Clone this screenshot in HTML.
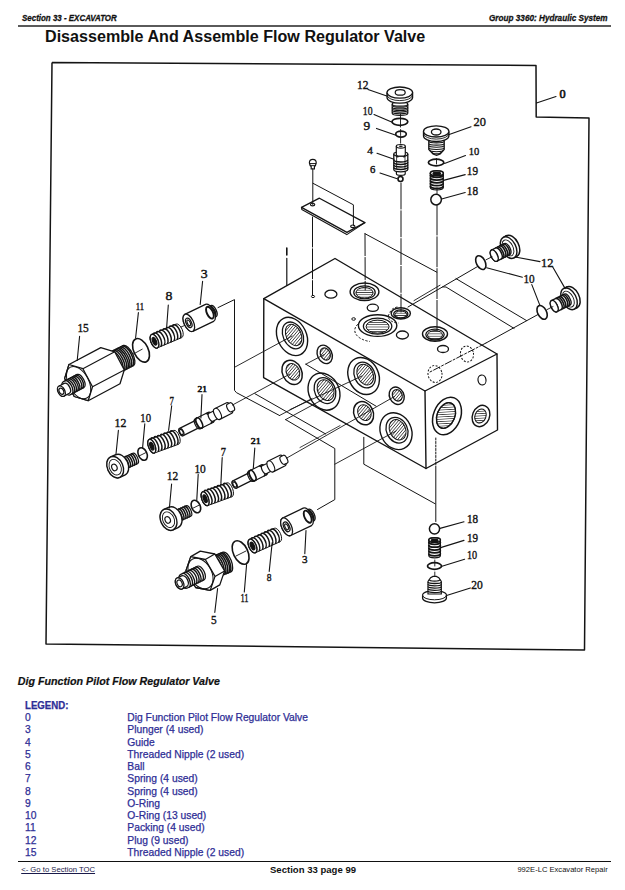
<!DOCTYPE html>
<html><head><meta charset="utf-8">
<style>
html,body{margin:0;padding:0;background:#fff;}
body{width:625px;height:890px;position:relative;overflow:hidden;font-family:"Liberation Sans",sans-serif;color:#111;}
.t{position:absolute;white-space:nowrap;line-height:1;transform-origin:0 0;}
.hdr{font-size:9.2px;font-weight:bold;font-style:italic;-webkit-text-stroke:0.3px #111;}
.ttl{font-size:15.8px;font-weight:bold;}
.sub{font-size:10.7px;font-weight:bold;font-style:italic;-webkit-text-stroke:0.2px #111;}
.lg{font-size:10.3px;color:#2e2e96;-webkit-text-stroke:0.25px #2e2e96;}
.rule{position:absolute;height:0;border-top:1.4px solid #333;}
svg{position:absolute;left:0;top:0;}
</style></head><body>
<div class="t hdr" id="h1" style="left:21.5px;top:14.4px;transform:scaleX(0.865);">Section 33 - EXCAVATOR</div>
<div class="t hdr" id="h2" style="left:488.6px;top:14.2px;transform:scaleX(0.89);">Group 3360: Hydraulic System</div>
<div class="rule" style="left:18px;top:24.9px;width:593px;border-top:2.2px solid #5a5a5a;"></div>
<div class="t ttl" id="ttl" style="left:44.6px;top:28.6px;transform:scaleX(1.02);">Disassemble And Assemble Flow Regulator Valve</div>

<div class="t sub" id="sub" style="left:17.8px;top:675.6px;">Dig Function Pilot Flow Regulator Valve</div>
<div class="t lg" style="left:24.8px;top:701.4px;font-weight:bold;font-size:10px;transform:scaleX(0.965);">LEGEND:</div>
<div id="legend">
<div class="t lg" style="left:25px;top:712.9px;">0</div><div class="t lg" style="left:127.3px;top:712.9px;">Dig Function Pilot Flow Regulator Valve</div>
<div class="t lg" style="left:25px;top:725.2px;">3</div><div class="t lg" style="left:127.3px;top:725.2px;">Plunger (4 used)</div>
<div class="t lg" style="left:25px;top:737.5px;">4</div><div class="t lg" style="left:127.3px;top:737.5px;">Guide</div>
<div class="t lg" style="left:25px;top:749.7px;">5</div><div class="t lg" style="left:127.3px;top:749.7px;">Threaded Nipple (2 used)</div>
<div class="t lg" style="left:25px;top:762.0px;">6</div><div class="t lg" style="left:127.3px;top:762.0px;">Ball</div>
<div class="t lg" style="left:25px;top:774.3px;">7</div><div class="t lg" style="left:127.3px;top:774.3px;">Spring (4 used)</div>
<div class="t lg" style="left:25px;top:786.6px;">8</div><div class="t lg" style="left:127.3px;top:786.6px;">Spring (4 used)</div>
<div class="t lg" style="left:25px;top:798.9px;">9</div><div class="t lg" style="left:127.3px;top:798.9px;">O-Ring</div>
<div class="t lg" style="left:25px;top:811.1px;">10</div><div class="t lg" style="left:127.3px;top:811.1px;">O-Ring (13 used)</div>
<div class="t lg" style="left:25px;top:823.4px;">11</div><div class="t lg" style="left:127.3px;top:823.4px;">Packing (4 used)</div>
<div class="t lg" style="left:25px;top:835.7px;">12</div><div class="t lg" style="left:127.3px;top:835.7px;">Plug (9 used)</div>
<div class="t lg" style="left:25px;top:848.0px;">15</div><div class="t lg" style="left:127.3px;top:848.0px;">Threaded Nipple (2 used)</div>
</div>
<div class="rule" style="left:17.7px;top:860.6px;width:593.5px;border-top:1.3px solid #111;"></div>
<div class="t" id="toc" style="left:21.2px;top:866.3px;font-size:7.7px;text-decoration:underline;color:#1a1a4a;">&lt;- Go to Section TOC</div>
<div class="t" id="pg" style="left:269.6px;top:864.8px;font-size:9.8px;font-weight:bold;transform:scaleX(0.975);">Section 33 page 99</div>
<div class="t" id="rep" style="left:517.4px;top:866px;font-size:7.6px;">992E-LC Excavator Repair</div>

<svg id="dg" width="625" height="890" viewBox="0 0 625 890">
<path d="M52.0,62.5 L536.0,65.5 L536.2,117.0 L589.0,118.0 L584.5,650.0 L46.0,644.0 L52.0,62.5" stroke="#141414" stroke-width="1.5" fill="none" stroke-linecap="butt" stroke-linejoin="round"/>
<path d="M536.5,103.0 L556.0,96.5" stroke="#141414" stroke-width="1.1" fill="none" stroke-linecap="round" stroke-linejoin="round"/>
<text transform="translate(559.5,98.2) scale(0.950,1)" font-family="Liberation Serif" font-size="12.9" fill="#141414" stroke="#141414" stroke-width="0.7">0</text>
<path d="M263.8,298.7 L335.0,258.5 L497.0,354.0 L497.5,430.0 L426.0,468.5 L263.6,377.6 Z" stroke="#141414" stroke-width="1.4" fill="#fff" stroke-linejoin="round"/>
<path d="M263.8,298.7 L425.0,391.0 L497.0,354.0" stroke="#141414" stroke-width="1.4" fill="none" stroke-linecap="round" stroke-linejoin="round"/>
<path d="M425.0,391.0 L426.0,468.5" stroke="#141414" stroke-width="1.4" fill="none" stroke-linecap="round" stroke-linejoin="round"/>
<defs><pattern id="th" patternUnits="userSpaceOnUse" width="2.3" height="2.3" patternTransform="rotate(65)"><rect width="2.3" height="2.3" fill="#fff"/><rect width="0.75" height="2.3" fill="#3a3a3a"/></pattern><pattern id="th2" patternUnits="userSpaceOnUse" width="2.3" height="2.3" patternTransform="rotate(0)"><rect width="2.3" height="2.3" fill="#fff"/><rect width="2.3" height="0.75" fill="#3a3a3a"/></pattern><pattern id="thv" patternUnits="userSpaceOnUse" width="2.4" height="2.4" patternTransform="rotate(90)"><rect width="2.4" height="2.4" fill="#fff"/><rect width="1.2" height="2.4" fill="#222"/></pattern></defs>
<ellipse cx="364.5" cy="291.8" rx="14.4" ry="8.8" fill="#fff" stroke="#141414" stroke-width="1.4"/>
<ellipse cx="364.5" cy="292.4" rx="10.7" ry="6.5" fill="#fff" stroke="#141414" stroke-width="1.3"/>
<ellipse cx="364.5" cy="292.8" rx="8.6" ry="5.3" fill="url(#th2)" stroke="none"/>
<ellipse cx="364.5" cy="292.8" rx="8.6" ry="5.3" fill="none" stroke="#141414" stroke-width="1.0"/>
<ellipse cx="330.9" cy="294.2" rx="6.0" ry="4.0" fill="none" stroke="#141414" stroke-width="1.3"/>
<ellipse cx="313.0" cy="296.5" rx="1.6" ry="1.1" fill="none" stroke="#141414" stroke-width="1.0"/>
<ellipse cx="372.8" cy="307.8" rx="5.6" ry="3.6" fill="none" stroke="#141414" stroke-width="1.3"/>
<ellipse cx="353.6" cy="319.0" rx="1.8" ry="1.3" fill="none" stroke="#141414" stroke-width="1.0"/>
<path d="M361,322 A20,11.5 0 0 0 370,341.5" stroke="#141414" stroke-width="1.0" fill="none" stroke-dasharray="2.2 1.6"/>
<ellipse cx="377.6" cy="325.6" rx="19.2" ry="10.8" fill="#fff" stroke="#141414" stroke-width="1.4"/>
<ellipse cx="377.6" cy="326.2" rx="14.2" ry="8.0" fill="#fff" stroke="#141414" stroke-width="1.3"/>
<ellipse cx="377.6" cy="326.6" rx="11.5" ry="6.5" fill="url(#th2)" stroke="none"/>
<ellipse cx="377.6" cy="326.6" rx="11.5" ry="6.5" fill="none" stroke="#141414" stroke-width="1.0"/>
<path d="M397.4,307 A10.5,6.5 0 0 0 390,313 A10.5,6.5 0 0 0 398.5,323" stroke="#141414" stroke-width="1.0" fill="none" stroke-dasharray="2.2 1.6"/>
<ellipse cx="400.8" cy="313.4" rx="9.6" ry="5.6" fill="#fff" stroke="#141414" stroke-width="1.4"/>
<ellipse cx="400.8" cy="314.0" rx="7.1" ry="4.1" fill="#fff" stroke="#141414" stroke-width="1.3"/>
<ellipse cx="400.8" cy="314.4" rx="5.8" ry="3.4" fill="url(#th2)" stroke="none"/>
<ellipse cx="400.8" cy="314.4" rx="5.8" ry="3.4" fill="none" stroke="#141414" stroke-width="1.0"/>
<ellipse cx="402.4" cy="335.0" rx="6.0" ry="4.0" fill="none" stroke="#141414" stroke-width="1.3"/>
<ellipse cx="435.0" cy="334.0" rx="12.5" ry="7.3" fill="#fff" stroke="#141414" stroke-width="1.4"/>
<ellipse cx="435.0" cy="334.6" rx="9.2" ry="5.4" fill="#fff" stroke="#141414" stroke-width="1.3"/>
<ellipse cx="435.0" cy="335.0" rx="7.5" ry="4.4" fill="url(#th2)" stroke="none"/>
<ellipse cx="435.0" cy="335.0" rx="7.5" ry="4.4" fill="none" stroke="#141414" stroke-width="1.0"/>
<ellipse cx="443.0" cy="349.0" rx="5.5" ry="3.5" fill="none" stroke="#141414" stroke-width="1.3"/>
<ellipse cx="467.0" cy="354.0" rx="6.5" ry="8.0" fill="none" stroke="#141414" stroke-width="1.0" transform="rotate(-10.0 467.0 354.0)" stroke-dasharray="2 1.5"/>
<ellipse cx="435.0" cy="374.0" rx="7.0" ry="8.5" fill="none" stroke="#141414" stroke-width="1.0" transform="rotate(-10.0 435.0 374.0)" stroke-dasharray="2 1.5"/>
<ellipse cx="482.0" cy="380.0" rx="4.0" ry="5.0" fill="none" stroke="#141414" stroke-width="1.2" transform="rotate(-10.0 482.0 380.0)"/>
<ellipse cx="292.0" cy="336.4" rx="14.5" ry="20.0" fill="#fff" stroke="#141414" stroke-width="1.4" transform="rotate(-25.0 292.0 336.4)"/>
<ellipse cx="293.0" cy="335.4" rx="9.9" ry="14.0" fill="#fff" stroke="#141414" stroke-width="1.3" transform="rotate(-25.0 293.0 335.4)"/>
<ellipse cx="293.6" cy="335.0" rx="7.5" ry="11.2" fill="url(#th)" stroke="none" transform="rotate(-25.0 293.6 335.0)"/>
<ellipse cx="293.6" cy="335.0" rx="7.5" ry="11.2" fill="none" stroke="#141414" stroke-width="1.0" transform="rotate(-25.0 293.6 335.0)"/>
<ellipse cx="324.7" cy="354.4" rx="7.2" ry="9.6" fill="#fff" stroke="#141414" stroke-width="1.4" transform="rotate(-25.0 324.7 354.4)"/>
<ellipse cx="325.3" cy="354.0" rx="4.8" ry="6.3" fill="url(#th)" stroke="none" transform="rotate(-25.0 325.3 354.0)"/>
<ellipse cx="325.3" cy="354.0" rx="4.8" ry="6.3" fill="none" stroke="#141414" stroke-width="1.2" transform="rotate(-25.0 325.3 354.0)"/>
<ellipse cx="292.1" cy="372.4" rx="9.6" ry="12.6" fill="#fff" stroke="#141414" stroke-width="1.5" transform="rotate(-25.0 292.1 372.4)"/>
<ellipse cx="292.9" cy="371.8" rx="6.5" ry="8.6" fill="url(#th)" stroke="none" transform="rotate(-25.0 292.9 371.8)"/>
<ellipse cx="292.9" cy="371.8" rx="6.5" ry="8.6" fill="none" stroke="#141414" stroke-width="1.0" transform="rotate(-25.0 292.9 371.8)"/>
<ellipse cx="324.0" cy="391.6" rx="15.2" ry="19.2" fill="#fff" stroke="#141414" stroke-width="1.4" transform="rotate(-25.0 324.0 391.6)"/>
<ellipse cx="325.0" cy="390.6" rx="10.3" ry="13.4" fill="#fff" stroke="#141414" stroke-width="1.3" transform="rotate(-25.0 325.0 390.6)"/>
<ellipse cx="325.6" cy="390.2" rx="7.9" ry="10.8" fill="url(#th)" stroke="none" transform="rotate(-25.0 325.6 390.2)"/>
<ellipse cx="325.6" cy="390.2" rx="7.9" ry="10.8" fill="none" stroke="#141414" stroke-width="1.0" transform="rotate(-25.0 325.6 390.2)"/>
<ellipse cx="363.6" cy="376.0" rx="15.0" ry="19.2" fill="#fff" stroke="#141414" stroke-width="1.4" transform="rotate(-25.0 363.6 376.0)"/>
<ellipse cx="364.6" cy="375.0" rx="10.2" ry="13.4" fill="#fff" stroke="#141414" stroke-width="1.3" transform="rotate(-25.0 364.6 375.0)"/>
<ellipse cx="365.2" cy="374.6" rx="7.8" ry="10.8" fill="url(#th)" stroke="none" transform="rotate(-25.0 365.2 374.6)"/>
<ellipse cx="365.2" cy="374.6" rx="7.8" ry="10.8" fill="none" stroke="#141414" stroke-width="1.0" transform="rotate(-25.0 365.2 374.6)"/>
<ellipse cx="396.7" cy="395.7" rx="7.2" ry="9.0" fill="#fff" stroke="#141414" stroke-width="1.4" transform="rotate(-25.0 396.7 395.7)"/>
<ellipse cx="397.3" cy="395.3" rx="4.8" ry="5.9" fill="url(#th)" stroke="none" transform="rotate(-25.0 397.3 395.3)"/>
<ellipse cx="397.3" cy="395.3" rx="4.8" ry="5.9" fill="none" stroke="#141414" stroke-width="1.2" transform="rotate(-25.0 397.3 395.3)"/>
<ellipse cx="363.6" cy="413.2" rx="9.6" ry="12.0" fill="#fff" stroke="#141414" stroke-width="1.5" transform="rotate(-25.0 363.6 413.2)"/>
<ellipse cx="364.4" cy="412.6" rx="6.5" ry="8.2" fill="url(#th)" stroke="none" transform="rotate(-25.0 364.4 412.6)"/>
<ellipse cx="364.4" cy="412.6" rx="6.5" ry="8.2" fill="none" stroke="#141414" stroke-width="1.0" transform="rotate(-25.0 364.4 412.6)"/>
<ellipse cx="396.0" cy="431.2" rx="15.4" ry="19.0" fill="#fff" stroke="#141414" stroke-width="1.4" transform="rotate(-25.0 396.0 431.2)"/>
<ellipse cx="397.0" cy="430.2" rx="10.5" ry="13.3" fill="#fff" stroke="#141414" stroke-width="1.3" transform="rotate(-25.0 397.0 430.2)"/>
<ellipse cx="397.6" cy="429.8" rx="8.0" ry="10.6" fill="url(#th)" stroke="none" transform="rotate(-25.0 397.6 429.8)"/>
<ellipse cx="397.6" cy="429.8" rx="8.0" ry="10.6" fill="none" stroke="#141414" stroke-width="1.0" transform="rotate(-25.0 397.6 429.8)"/>
<ellipse cx="447.0" cy="416.0" rx="13.5" ry="19.5" fill="#fff" stroke="#141414" stroke-width="1.5" transform="rotate(22.0 447.0 416.0)"/>
<ellipse cx="446.0" cy="415.5" rx="8.9" ry="13.3" fill="url(#th)" stroke="#141414" stroke-width="1.2" transform="rotate(22.0 446.0 415.5)"/>
<ellipse cx="446.0" cy="415.5" rx="8.9" ry="13.3" fill="none" stroke="#141414" stroke-width="1.3" transform="rotate(22.0 446.0 415.5)"/>
<ellipse cx="481.0" cy="416.0" rx="8.5" ry="11.0" fill="#fff" stroke="#141414" stroke-width="1.4" transform="rotate(22.0 481.0 416.0)"/>
<ellipse cx="480.5" cy="416.0" rx="5.5" ry="7.2" fill="url(#th)" stroke="#141414" stroke-width="1.0" transform="rotate(22.0 480.5 416.0)"/>
<path d="M392.2,104.0 L392.2,113.2 A7.8,2.2 0 0 0 407.8,113.2 L407.8,104.0" stroke="#141414" stroke-width="1.2" fill="#fff" stroke-linejoin="round"/>
<ellipse cx="400.0" cy="104.0" rx="7.8" ry="2.2" fill="#fff" stroke="#141414" stroke-width="1.2"/>
<path d="M392.2,105.3 A7.8,2.0 0 0 0 407.8,105.3" stroke="#141414" stroke-width="1.1" fill="none"/>
<path d="M392.2,106.9 A7.8,2.0 0 0 0 407.8,106.9" stroke="#141414" stroke-width="1.1" fill="none"/>
<path d="M392.2,108.5 A7.8,2.0 0 0 0 407.8,108.5" stroke="#141414" stroke-width="1.1" fill="none"/>
<path d="M392.2,110.1 A7.8,2.0 0 0 0 407.8,110.1" stroke="#141414" stroke-width="1.1" fill="none"/>
<path d="M392.2,111.7 A7.8,2.0 0 0 0 407.8,111.7" stroke="#141414" stroke-width="1.1" fill="none"/>
<path d="M387.0,92.6 L387.0,97.6 A12.8,5.6 0 0 0 412.6,97.6 L412.6,92.6" stroke="#141414" stroke-width="1.3" fill="#fff" stroke-linejoin="round"/>
<ellipse cx="399.8" cy="92.6" rx="12.8" ry="5.6" fill="#fff" stroke="#141414" stroke-width="1.3"/>
<path d="M387.2,95.2 A12.6,5.4 0 0 0 412.4,95.2" stroke="#141414" stroke-width="0.9" fill="none"/>
<ellipse cx="400.2" cy="92.4" rx="5.0" ry="2.8" fill="none" stroke="#141414" stroke-width="1.2"/>
<text transform="translate(357.0,89.2) scale(0.931,1)" font-family="Liberation Serif" font-size="12.3" fill="#141414" stroke="#141414" stroke-width="0.4">12</text>
<path d="M368.0,89.4 L387.5,96.2" stroke="#141414" stroke-width="1.1" fill="none" stroke-linecap="round" stroke-linejoin="round"/>
<path d="M400.5,114.0 L400.5,127.0" stroke="#141414" stroke-width="0.9" fill="none" stroke-linecap="round" stroke-linejoin="round"/>
<ellipse cx="399.9" cy="121.8" rx="7.9" ry="3.5" fill="none" stroke="#141414" stroke-width="1.7"/>
<text transform="translate(362.8,115.4) scale(0.786,1)" font-family="Liberation Serif" font-size="12.4" fill="#141414" stroke="#141414" stroke-width="0.4">10</text>
<path d="M374.0,114.6 L392.2,122.2" stroke="#141414" stroke-width="1.1" fill="none" stroke-linecap="round" stroke-linejoin="round"/>
<path d="M400.6,129.5 L400.6,147.0" stroke="#141414" stroke-width="0.9" fill="none" stroke-linecap="round" stroke-linejoin="round" stroke-dasharray="6 1.2"/>
<ellipse cx="401.0" cy="134.1" rx="5.3" ry="3.0" fill="none" stroke="#141414" stroke-width="1.7"/>
<text transform="translate(363.5,129.5) scale(1.086,1)" font-family="Liberation Serif" font-size="12.3" fill="#141414" stroke="#141414" stroke-width="0.4">9</text>
<path d="M376.5,128.4 L396.0,135.2" stroke="#141414" stroke-width="1.1" fill="none" stroke-linecap="round" stroke-linejoin="round"/>
<path d="M396.4,166.0 L396.4,173.8 A4.4,1.6 0 0 0 405.2,173.8 L405.2,166.0" stroke="#141414" stroke-width="1.2" fill="#fff" stroke-linejoin="round"/>
<path d="M393.8,154.0 L393.8,169.6 A7.0,2.2 0 0 0 407.8,169.6 L407.8,154.0" stroke="#141414" stroke-width="1.3" fill="#fff" stroke-linejoin="round"/>
<ellipse cx="400.8" cy="154.0" rx="7.0" ry="2.2" fill="#fff" stroke="#141414" stroke-width="1.3"/>
<path d="M393.8,159.8 A7.0,2.2 0 0 0 407.8,159.8" stroke="#141414" stroke-width="1.5" fill="none"/>
<path d="M393.8,162.2 A7.0,2.2 0 0 0 407.8,162.2" stroke="#141414" stroke-width="1.5" fill="none"/>
<path d="M393.8,164.8 A7.0,2.2 0 0 0 407.8,164.8" stroke="#141414" stroke-width="1.5" fill="none"/>
<path d="M393.8,167.2 A7.0,2.2 0 0 0 407.8,167.2" stroke="#141414" stroke-width="1.5" fill="none"/>
<path d="M396.6,156.5 L396.6,168.5" stroke="#141414" stroke-width="0.8" fill="none" stroke-linecap="round" stroke-linejoin="round"/>
<path d="M405.0,156.5 L405.0,168.5" stroke="#141414" stroke-width="0.8" fill="none" stroke-linecap="round" stroke-linejoin="round"/>
<ellipse cx="397.6" cy="156.2" rx="1.3" ry="1.4" fill="#141414" stroke="none"/>
<ellipse cx="404.0" cy="156.2" rx="1.3" ry="1.4" fill="#141414" stroke="none"/>
<path d="M396.3,146.3 L396.3,154.4 A4.5,1.8 0 0 0 405.3,154.4 L405.3,146.3" stroke="#141414" stroke-width="1.2" fill="#fff" stroke-linejoin="round"/>
<ellipse cx="400.8" cy="146.3" rx="4.5" ry="1.8" fill="#fff" stroke="#141414" stroke-width="1.2"/>
<ellipse cx="400.8" cy="146.3" rx="2.0" ry="0.8" fill="#141414" stroke="none"/>
<text transform="translate(367.2,153.6) scale(1.079,1)" font-family="Liberation Serif" font-size="10.5" fill="#141414" stroke="#141414" stroke-width="0.4">4</text>
<path d="M377.0,153.2 L394.0,159.2" stroke="#141414" stroke-width="1.1" fill="none" stroke-linecap="round" stroke-linejoin="round"/>
<ellipse cx="400.5" cy="179.0" rx="2.5" ry="2.5" fill="#fff" stroke="#141414" stroke-width="1.6"/>
<text transform="translate(370.0,173.4) scale(1.127,1)" font-family="Liberation Serif" font-size="9.5" fill="#141414" stroke="#141414" stroke-width="0.4">6</text>
<path d="M380.0,173.0 L397.2,178.8" stroke="#141414" stroke-width="1.1" fill="none" stroke-linecap="round" stroke-linejoin="round"/>
<path d="M401.0,183.0 L401.0,312.0" stroke="#141414" stroke-width="1.0" fill="none" stroke-linecap="round" stroke-linejoin="round" stroke-dasharray="26 1.8"/>
<path d="M428.8,138.5 L428.8,149.5 L433,154 L436.6,155.4 L440.2,154 L444.2,149.5 L444.2,138.5 Z" stroke="#141414" stroke-width="1.3" fill="#fff"/>
<path d="M428.9,141.2 A7.6,1.7 0 0 0 444.1,141.2" stroke="#141414" stroke-width="1.1" fill="none"/>
<path d="M428.9,143.4 A7.6,1.7 0 0 0 444.1,143.4" stroke="#141414" stroke-width="1.1" fill="none"/>
<path d="M428.9,145.6 A7.6,1.7 0 0 0 444.1,145.6" stroke="#141414" stroke-width="1.1" fill="none"/>
<path d="M428.9,147.8 A7.6,1.7 0 0 0 444.1,147.8" stroke="#141414" stroke-width="1.1" fill="none"/>
<path d="M429.6,150.0 A6.9,1.7 0 0 0 443.4,150.0" stroke="#141414" stroke-width="1.1" fill="none"/>
<path d="M432.4,152.2 A4.1,1.7 0 0 0 440.6,152.2" stroke="#141414" stroke-width="1.1" fill="none"/>
<path d="M423.5,131.4 L423.5,135.9 A12.7,5.6 0 0 0 448.9,135.9 L448.9,131.4" stroke="#141414" stroke-width="1.3" fill="#fff" stroke-linejoin="round"/>
<ellipse cx="436.2" cy="131.4" rx="12.7" ry="5.6" fill="#fff" stroke="#141414" stroke-width="1.3"/>
<path d="M423.6,133.6 A12.6,5.5 0 0 0 448.8,133.6" stroke="#141414" stroke-width="0.9" fill="none"/>
<ellipse cx="436.2" cy="132.0" rx="4.8" ry="3.0" fill="none" stroke="#141414" stroke-width="1.3"/>
<text transform="translate(473.5,126.3) scale(0.919,1)" font-family="Liberation Serif" font-size="13.5" fill="#141414" stroke="#141414" stroke-width="0.4">20</text>
<path d="M448.5,134.8 L471.0,126.8" stroke="#141414" stroke-width="1.1" fill="none" stroke-linecap="round" stroke-linejoin="round"/>
<ellipse cx="436.1" cy="162.5" rx="7.7" ry="3.3" fill="none" stroke="#141414" stroke-width="1.7"/>
<path d="M436.5,158.5 L436.5,164.0" stroke="#141414" stroke-width="0.9" fill="none" stroke-linecap="round" stroke-linejoin="round"/>
<text transform="translate(468.8,155.4) scale(0.942,1)" font-family="Liberation Serif" font-size="11.2" fill="#141414" stroke="#141414" stroke-width="0.4">10</text>
<path d="M444.5,163.4 L465.5,155.6" stroke="#141414" stroke-width="1.1" fill="none" stroke-linecap="round" stroke-linejoin="round"/>
<path d="M430.3,173.2 L430.3,187.6 A6.5,2.4 0 0 0 443.3,187.6 L443.3,173.2" stroke="#141414" stroke-width="1.2" fill="#fff" stroke-linejoin="round"/>
<ellipse cx="436.8" cy="173.2" rx="6.5" ry="2.4" fill="#fff" stroke="#141414" stroke-width="1.2"/>
<path d="M430.4,174.9 A6.4,2.4 0 0 0 443.2,174.9" stroke="#141414" stroke-width="1.8" fill="none"/>
<path d="M430.4,177.7 A6.4,2.4 0 0 0 443.2,177.7" stroke="#141414" stroke-width="1.8" fill="none"/>
<path d="M430.4,180.5 A6.4,2.4 0 0 0 443.2,180.5" stroke="#141414" stroke-width="1.8" fill="none"/>
<path d="M430.4,183.3 A6.4,2.4 0 0 0 443.2,183.3" stroke="#141414" stroke-width="1.8" fill="none"/>
<path d="M430.4,186.1 A6.4,2.4 0 0 0 443.2,186.1" stroke="#141414" stroke-width="1.8" fill="none"/>
<ellipse cx="436.8" cy="173.2" rx="6.5" ry="2.4" fill="#fff" stroke="#141414" stroke-width="1.6"/>
<ellipse cx="436.8" cy="173.6" rx="3.6" ry="1.3" fill="#141414" stroke="#141414" stroke-width="1.6"/>
<text transform="translate(466.8,174.7) scale(0.901,1)" font-family="Liberation Serif" font-size="12.4" fill="#141414" stroke="#141414" stroke-width="0.4">19</text>
<path d="M443.5,180.4 L465.2,174.6" stroke="#141414" stroke-width="1.1" fill="none" stroke-linecap="round" stroke-linejoin="round"/>
<path d="M437.0,188.0 L437.0,194.0" stroke="#141414" stroke-width="0.9" fill="none" stroke-linecap="round" stroke-linejoin="round"/>
<ellipse cx="436.1" cy="199.6" rx="5.3" ry="5.3" fill="#fff" stroke="#141414" stroke-width="1.5"/>
<text transform="translate(466.8,195.1) scale(0.911,1)" font-family="Liberation Serif" font-size="12.3" fill="#141414" stroke="#141414" stroke-width="0.4">18</text>
<path d="M441.6,199.0 L465.2,192.5" stroke="#141414" stroke-width="1.1" fill="none" stroke-linecap="round" stroke-linejoin="round"/>
<path d="M437.0,205.0 L437.0,331.0" stroke="#141414" stroke-width="1.0" fill="none" stroke-linecap="round" stroke-linejoin="round" stroke-dasharray="30 1.8"/>
<path d="M309.4,162.8 Q309.4,159.4 312.8,159.4 Q316.2,159.4 316.2,162.8 L315.4,165.6 L314.4,166.6 L314.4,169 L311.2,169 L311.2,166.6 L310.2,165.6 Z" stroke="#141414" stroke-width="1.2" fill="#fff"/>
<path d="M309.8,163.6 L315.8,163.6" stroke="#141414" stroke-width="1.0" fill="none" stroke-linecap="round" stroke-linejoin="round"/>
<path d="M310.4,165.6 L315.2,165.6" stroke="#141414" stroke-width="0.9" fill="none" stroke-linecap="round" stroke-linejoin="round"/>
<path d="M312.8,168.5 L312.8,204.5" stroke="#141414" stroke-width="1.0" fill="none" stroke-linecap="round" stroke-linejoin="round"/>
<path d="M313.0,183.3 L353.4,204.8 L353.4,225.5" stroke="#141414" stroke-width="1.0" fill="none" stroke-linecap="round" stroke-linejoin="round"/>
<path d="M301.5,207.4 L319.4,198.2 L364.9,222.6 L346.9,232.4 Z" stroke="#141414" stroke-width="1.3" fill="none" stroke-linejoin="round"/>
<path d="M301.5,207.4 L301.8,209.4 L346.8,234.6 L364.9,222.6" stroke="#141414" stroke-width="1.1" fill="none" stroke-linecap="round" stroke-linejoin="round"/>
<ellipse cx="312.6" cy="204.6" rx="2.2" ry="1.3" fill="none" stroke="#141414" stroke-width="1.1"/>
<ellipse cx="352.8" cy="226.3" rx="2.2" ry="1.3" fill="none" stroke="#141414" stroke-width="1.1"/>
<path d="M312.5,217.0 L312.5,295.5" stroke="#141414" stroke-width="1.0" fill="none" stroke-linecap="round" stroke-linejoin="round" stroke-dasharray="30 1.8"/>
<path d="M365.0,233.7 L436.8,272.2" stroke="#141414" stroke-width="1.0" fill="none" stroke-linecap="round" stroke-linejoin="round"/>
<path d="M365.0,233.7 L365.2,290.0" stroke="#141414" stroke-width="1.0" fill="none" stroke-linecap="round" stroke-linejoin="round" stroke-dasharray="22 1.8"/>
<path d="M286.8,248.0 L286.8,255.0" stroke="#141414" stroke-width="1.6" fill="none" stroke-linecap="round" stroke-linejoin="round"/>
<path d="M286.8,258.4 L286.8,285.4" stroke="#141414" stroke-width="1.2" fill="none" stroke-linecap="round" stroke-linejoin="round"/>
<path d="M99.9,357.4 L123.5,345.4 A4.7,11.3 -27.0 0 1 133.7,365.5 L110.1,377.6 A4.7,11.3 -27.0 0 1 99.9,357.4 Z" stroke="#141414" stroke-width="1.3" fill="#fff" stroke-linejoin="round"/>
<path d="M111.5,351.5 A4.7,11.3 -27.0 0 1 121.7,371.7" stroke="#141414" stroke-width="1.5" fill="none"/>
<path d="M113.2,350.6 A4.7,11.3 -27.0 0 1 123.5,370.8" stroke="#141414" stroke-width="1.5" fill="none"/>
<path d="M115.0,349.7 A4.7,11.3 -27.0 0 1 125.3,369.9" stroke="#141414" stroke-width="1.5" fill="none"/>
<path d="M116.8,348.8 A4.7,11.3 -27.0 0 1 127.1,368.9" stroke="#141414" stroke-width="1.5" fill="none"/>
<path d="M118.6,347.9 A4.7,11.3 -27.0 0 1 128.8,368.0" stroke="#141414" stroke-width="1.5" fill="none"/>
<path d="M120.4,347.0 A4.7,11.3 -27.0 0 1 130.6,367.1" stroke="#141414" stroke-width="1.5" fill="none"/>
<path d="M122.1,346.1 A4.7,11.3 -27.0 0 1 132.4,366.2" stroke="#141414" stroke-width="1.5" fill="none"/>
<path d="M64.7,378.4 L69.0,364.5 L100.8,347.6 L114.7,351.8 L124.3,369.9 L120.0,383.8 L88.2,400.7 L74.3,396.5 Z" stroke="#141414" stroke-width="1.3" fill="#fff" stroke-linejoin="round"/>
<path d="M92.5,386.8 L124.3,369.9" stroke="#141414" stroke-width="1.105" fill="none" stroke-linecap="round" stroke-linejoin="round"/>
<path d="M82.9,368.7 L114.7,351.8" stroke="#141414" stroke-width="1.105" fill="none" stroke-linecap="round" stroke-linejoin="round"/>
<path d="M88.2,400.7 L92.5,386.8 L82.9,368.7 L69.0,364.5 L64.7,378.4 L74.3,396.5 Z" stroke="#141414" stroke-width="1.3" fill="#fff" stroke-linejoin="round"/>
<ellipse cx="78.6" cy="382.6" rx="10.1" ry="17.5" fill="none" stroke="#141414" stroke-width="1.0" transform="rotate(-28.0 78.6 382.6)"/>
<path d="M63.0,381.9 L77.2,374.4 A3.7,7.4 -28.0 0 1 84.1,387.4 L70.0,394.9 A3.7,7.4 -28.0 0 1 63.0,381.9 Z" stroke="#141414" stroke-width="1.2" fill="#fff" stroke-linejoin="round"/>
<path d="M64.8,380.9 A3.7,7.4 -28.0 0 1 71.7,394.0" stroke="#141414" stroke-width="1.4" fill="none"/>
<path d="M66.6,380.0 A3.7,7.4 -28.0 0 1 73.5,393.1" stroke="#141414" stroke-width="1.4" fill="none"/>
<path d="M68.3,379.0 A3.7,7.4 -28.0 0 1 75.3,392.1" stroke="#141414" stroke-width="1.4" fill="none"/>
<path d="M70.1,378.1 A3.7,7.4 -28.0 0 1 77.0,391.2" stroke="#141414" stroke-width="1.4" fill="none"/>
<path d="M71.9,377.2 A3.7,7.4 -28.0 0 1 78.8,390.2" stroke="#141414" stroke-width="1.4" fill="none"/>
<path d="M73.6,376.2 A3.7,7.4 -28.0 0 1 80.6,389.3" stroke="#141414" stroke-width="1.4" fill="none"/>
<path d="M75.4,375.3 A3.7,7.4 -28.0 0 1 82.3,388.4" stroke="#141414" stroke-width="1.4" fill="none"/>
<path d="M58.8,386.3 L64.1,383.4 A3.4,5.6 -28.0 0 1 69.3,393.3 L64.0,396.1 A3.4,5.6 -28.0 0 1 58.8,386.3 Z" stroke="#141414" stroke-width="1.3" fill="#fff" stroke-linejoin="round"/>
<ellipse cx="61.4" cy="391.2" rx="3.4" ry="5.6" fill="#fff" stroke="#141414" stroke-width="1.3" transform="rotate(-28.0 61.4 391.2)"/>
<ellipse cx="61.4" cy="391.2" rx="2.2" ry="3.3" fill="none" stroke="#141414" stroke-width="1.2" transform="rotate(-28.0 61.4 391.2)"/>
<text transform="translate(77.4,332.4) scale(0.878,1)" font-family="Liberation Serif" font-size="13.0" fill="#141414" stroke="#141414" stroke-width="0.4">15</text>
<path d="M79.6,336.3 L77.2,360.5" stroke="#141414" stroke-width="1.1" fill="none" stroke-linecap="round" stroke-linejoin="round"/>
<path d="M133.4,354.0 L142.2,349.2" stroke="#141414" stroke-width="0.9" fill="none" stroke-linecap="round" stroke-linejoin="round"/>
<ellipse cx="141.0" cy="350.3" rx="7.2" ry="12.6" fill="none" stroke="#141414" stroke-width="1.6" transform="rotate(-25.5 141.0 350.3)"/>
<text transform="translate(135.8,310.4) scale(0.848,1)" font-family="Liberation Serif" font-size="10.1" fill="#141414" stroke="#141414" stroke-width="0.4">11</text>
<path d="M138.4,312.6 L135.6,338.0" stroke="#141414" stroke-width="1.1" fill="none" stroke-linecap="round" stroke-linejoin="round"/>
<path d="M151.6,334.5 L176.0,324.1 A3.6,7.3 -23.0 0 1 181.7,337.6 L157.4,347.9 A3.6,7.3 -23.0 0 1 151.6,334.5 Z" stroke="#141414" stroke-width="1.0" fill="#fff" stroke-linejoin="round"/>
<ellipse cx="154.5" cy="341.2" rx="3.6" ry="7.3" fill="#fff" stroke="#141414" stroke-width="1.0" transform="rotate(-23.0 154.5 341.2)"/>
<path d="M153.1,333.9 A3.6,7.3 -23.0 0 1 161.0,346.4" stroke="#141414" stroke-width="1.5" fill="none"/>
<path d="M156.3,332.5 A3.6,7.3 -23.0 0 1 164.2,345.0" stroke="#141414" stroke-width="1.5" fill="none"/>
<path d="M159.5,331.1 A3.6,7.3 -23.0 0 1 167.4,343.6" stroke="#141414" stroke-width="1.5" fill="none"/>
<path d="M162.7,329.8 A3.6,7.3 -23.0 0 1 170.7,342.3" stroke="#141414" stroke-width="1.5" fill="none"/>
<path d="M166.0,328.4 A3.6,7.3 -23.0 0 1 173.9,340.9" stroke="#141414" stroke-width="1.5" fill="none"/>
<path d="M169.2,327.0 A3.6,7.3 -23.0 0 1 177.1,339.5" stroke="#141414" stroke-width="1.5" fill="none"/>
<path d="M172.4,325.7 A3.6,7.3 -23.0 0 1 180.3,338.2" stroke="#141414" stroke-width="1.5" fill="none"/>
<ellipse cx="154.5" cy="341.2" rx="3.6" ry="7.3" fill="#fff" stroke="#141414" stroke-width="1.4" transform="rotate(-23.0 154.5 341.2)"/>
<ellipse cx="154.5" cy="341.2" rx="1.8" ry="4.0" fill="#141414" stroke="#141414" stroke-width="1.3" transform="rotate(-23.0 154.5 341.2)"/>
<text transform="translate(165.5,299.6) scale(1.179,1)" font-family="Liberation Serif" font-size="11.7" fill="#141414" stroke="#141414" stroke-width="0.4">8</text>
<path d="M168.3,305.0 L166.6,328.0" stroke="#141414" stroke-width="1.1" fill="none" stroke-linecap="round" stroke-linejoin="round"/>
<path d="M181.0,327.0 L187.0,324.5" stroke="#141414" stroke-width="0.9" fill="none" stroke-linecap="round" stroke-linejoin="round"/>
<path d="M205.1,308.2 L210.7,305.5 A3.1,6.2 -25.5 0 1 216.0,316.7 L210.4,319.4 A3.1,6.2 -25.5 0 1 205.1,308.2 Z" stroke="#141414" stroke-width="1.3" fill="#fff" stroke-linejoin="round"/>
<path d="M209.1,306.2 A3.1,6.2 -25.5 0 1 214.5,317.4" stroke="#141414" stroke-width="1.8" fill="none"/>
<path d="M184.8,314.3 L205.5,304.4 A4.7,9.4 -25.5 0 1 213.6,321.4 L192.8,331.3 A4.7,9.4 -25.5 0 1 184.8,314.3 Z" stroke="#141414" stroke-width="1.3" fill="#fff" stroke-linejoin="round"/>
<ellipse cx="188.8" cy="322.8" rx="4.7" ry="9.4" fill="#fff" stroke="#141414" stroke-width="1.3" transform="rotate(-25.5 188.8 322.8)"/>
<ellipse cx="209.9" cy="312.7" rx="3.0" ry="6.4" fill="none" stroke="#141414" stroke-width="1.9" transform="rotate(-25.5 209.9 312.7)"/>
<ellipse cx="188.8" cy="322.8" rx="2.6" ry="5.0" fill="none" stroke="#141414" stroke-width="1.3" transform="rotate(-25.5 188.8 322.8)"/>
<ellipse cx="188.8" cy="322.8" rx="1.4" ry="3.0" fill="none" stroke="#141414" stroke-width="1.1" transform="rotate(-25.5 188.8 322.8)"/>
<text transform="translate(200.7,277.6) scale(1.179,1)" font-family="Liberation Serif" font-size="11.7" fill="#141414" stroke="#141414" stroke-width="0.4">3</text>
<path d="M202.6,281.2 L200.2,304.5" stroke="#141414" stroke-width="1.1" fill="none" stroke-linecap="round" stroke-linejoin="round"/>
<path d="M218.0,307.6 L234.5,299.6 L234.5,390.3 L236.4,392.6 L279.5,415.5" stroke="#141414" stroke-width="1.0" fill="none" stroke-linecap="round" stroke-linejoin="round"/>
<path d="M118.1,459.7 L132.8,453.2 A2.6,5.8 -24.0 0 1 137.5,463.8 L122.9,470.3 A2.6,5.8 -24.0 0 1 118.1,459.7 Z" stroke="#141414" stroke-width="1.2" fill="#fff" stroke-linejoin="round"/>
<path d="M121.0,458.4 A2.6,5.8 -24.0 0 1 125.7,469.0" stroke="#141414" stroke-width="1.5" fill="none"/>
<path d="M122.9,457.6 A2.6,5.8 -24.0 0 1 127.7,468.2" stroke="#141414" stroke-width="1.5" fill="none"/>
<path d="M124.9,456.7 A2.6,5.8 -24.0 0 1 129.6,467.3" stroke="#141414" stroke-width="1.5" fill="none"/>
<path d="M126.9,455.8 A2.6,5.8 -24.0 0 1 131.6,466.4" stroke="#141414" stroke-width="1.5" fill="none"/>
<path d="M128.9,454.9 A2.6,5.8 -24.0 0 1 133.6,465.5" stroke="#141414" stroke-width="1.5" fill="none"/>
<path d="M130.9,454.0 A2.6,5.8 -24.0 0 1 135.6,464.6" stroke="#141414" stroke-width="1.5" fill="none"/>
<path d="M110.6,457.0 L115.7,454.7 A7.8,11.2 -24.0 0 1 124.8,475.2 L119.8,477.4 A7.8,11.2 -24.0 0 1 110.6,457.0 Z" stroke="#141414" stroke-width="1.4" fill="#fff" stroke-linejoin="round"/>
<ellipse cx="115.2" cy="467.2" rx="7.8" ry="11.2" fill="#fff" stroke="#141414" stroke-width="1.4" transform="rotate(-24.0 115.2 467.2)"/>
<ellipse cx="115.2" cy="467.2" rx="5.7" ry="8.2" fill="none" stroke="#141414" stroke-width="0.9" transform="rotate(-24.0 115.2 467.2)"/>
<ellipse cx="114.4" cy="467.4" rx="2.6" ry="3.4" fill="none" stroke="#141414" stroke-width="1.2" transform="rotate(-24.0 114.4 467.4)"/>
<ellipse cx="142.6" cy="454.0" rx="4.3" ry="6.6" fill="none" stroke="#141414" stroke-width="1.6" transform="rotate(-24.0 142.6 454.0)"/>
<path d="M139.0,456.0 L146.5,452.3" stroke="#141414" stroke-width="0.9" fill="none" stroke-linecap="round" stroke-linejoin="round"/>
<path d="M149.3,439.3 L173.7,430.4 A3.3,7.3 -20.0 0 1 178.7,444.2 L154.3,453.1 A3.3,7.3 -20.0 0 1 149.3,439.3 Z" stroke="#141414" stroke-width="1.0" fill="#fff" stroke-linejoin="round"/>
<ellipse cx="151.8" cy="446.2" rx="3.3" ry="7.3" fill="#fff" stroke="#141414" stroke-width="1.0" transform="rotate(-20.0 151.8 446.2)"/>
<path d="M150.7,438.8 A3.3,7.3 -20.0 0 1 158.0,451.7" stroke="#141414" stroke-width="1.5" fill="none"/>
<path d="M153.9,437.6 A3.3,7.3 -20.0 0 1 161.2,450.5" stroke="#141414" stroke-width="1.5" fill="none"/>
<path d="M157.2,436.5 A3.3,7.3 -20.0 0 1 164.4,449.4" stroke="#141414" stroke-width="1.5" fill="none"/>
<path d="M160.4,435.3 A3.3,7.3 -20.0 0 1 167.6,448.2" stroke="#141414" stroke-width="1.5" fill="none"/>
<path d="M163.6,434.1 A3.3,7.3 -20.0 0 1 170.9,447.0" stroke="#141414" stroke-width="1.5" fill="none"/>
<path d="M166.8,433.0 A3.3,7.3 -20.0 0 1 174.1,445.9" stroke="#141414" stroke-width="1.5" fill="none"/>
<path d="M170.1,431.8 A3.3,7.3 -20.0 0 1 177.3,444.7" stroke="#141414" stroke-width="1.5" fill="none"/>
<ellipse cx="151.8" cy="446.2" rx="3.3" ry="7.3" fill="#fff" stroke="#141414" stroke-width="1.4" transform="rotate(-20.0 151.8 446.2)"/>
<ellipse cx="151.8" cy="446.2" rx="1.7" ry="4.0" fill="#141414" stroke="#141414" stroke-width="1.3" transform="rotate(-20.0 151.8 446.2)"/>
<path d="M179.6,428.4 L196.6,419.9 A2.0,4.0 -26.6 0 1 200.2,427.1 L183.2,435.6 A2.0,4.0 -26.6 0 1 179.6,428.4 Z" stroke="#141414" stroke-width="1.2" fill="#fff" stroke-linejoin="round"/>
<ellipse cx="181.4" cy="432.0" rx="2.0" ry="4.0" fill="#fff" stroke="#141414" stroke-width="1.2" transform="rotate(-26.6 181.4 432.0)"/>
<path d="M195.0,418.9 L197.7,417.6 A2.5,5.6 -26.6 0 1 202.7,427.6 L200.0,428.9 A2.5,5.6 -26.6 0 1 195.0,418.9 Z" stroke="#141414" stroke-width="1.2" fill="#fff" stroke-linejoin="round"/>
<path d="M193.9,421.3 L196.3,418.3 M197.5,428.4 L201.3,428.3" stroke="#141414" stroke-width="1.2"/>
<path d="M196.3,418.3 L208.4,412.2 A2.5,5.6 -26.6 0 1 213.4,422.2 L201.3,428.3 A2.5,5.6 -26.6 0 1 196.3,418.3 Z" stroke="#141414" stroke-width="1.2" fill="#fff" stroke-linejoin="round"/>
<ellipse cx="199.3" cy="423.0" rx="2.5" ry="5.6" fill="none" stroke="#141414" stroke-width="1.6" transform="rotate(-26.6 199.3 423.0)"/>
<path d="M205.7,413.6 A2.5,5.6 -26.6 0 1 210.7,423.6" stroke="#141414" stroke-width="1.3" fill="none"/>
<path d="M207.5,412.7 A2.5,5.6 -26.6 0 1 212.5,422.7" stroke="#141414" stroke-width="1.3" fill="none"/>
<path d="M208.9,413.3 L215.2,410.2 A2.0,4.4 -26.6 0 1 219.1,418.0 L212.9,421.2 A2.0,4.4 -26.6 0 1 208.9,413.3 Z" stroke="#141414" stroke-width="1.2" fill="#fff" stroke-linejoin="round"/>
<path d="M214.5,408.8 L226.6,402.8 A2.7,5.9 -26.6 0 1 231.9,413.3 L219.8,419.4 A2.7,5.9 -26.6 0 1 214.5,408.8 Z" stroke="#141414" stroke-width="1.2" fill="#fff" stroke-linejoin="round"/>
<path d="M227.3,404.2 L230.2,402.8 A1.9,4.3 -26.6 0 1 234.0,410.5 L231.2,411.9 A1.9,4.3 -26.6 0 1 227.3,404.2 Z" stroke="#141414" stroke-width="1.2" fill="#fff" stroke-linejoin="round"/>
<path d="M215.4,408.4 A2.7,5.9 -26.6 0 1 220.7,418.9" stroke="#141414" stroke-width="1.1" fill="none"/>
<ellipse cx="181.4" cy="432.0" rx="1.5" ry="2.8" fill="none" stroke="#141414" stroke-width="1.1" transform="rotate(-26.6 181.4 432.0)"/>
<path d="M116.0,456.0 L121.0,462.0" stroke="#141414" stroke-width="0" fill="none" stroke-linecap="round" stroke-linejoin="round"/>
<path d="M171.4,512.2 L186.1,505.7 A2.6,5.8 -24.0 0 1 190.8,516.3 L176.2,522.8 A2.6,5.8 -24.0 0 1 171.4,512.2 Z" stroke="#141414" stroke-width="1.2" fill="#fff" stroke-linejoin="round"/>
<path d="M174.3,510.9 A2.6,5.8 -24.0 0 1 179.0,521.5" stroke="#141414" stroke-width="1.5" fill="none"/>
<path d="M176.2,510.1 A2.6,5.8 -24.0 0 1 181.0,520.7" stroke="#141414" stroke-width="1.5" fill="none"/>
<path d="M178.2,509.2 A2.6,5.8 -24.0 0 1 182.9,519.8" stroke="#141414" stroke-width="1.5" fill="none"/>
<path d="M180.2,508.3 A2.6,5.8 -24.0 0 1 184.9,518.9" stroke="#141414" stroke-width="1.5" fill="none"/>
<path d="M182.2,507.4 A2.6,5.8 -24.0 0 1 186.9,518.0" stroke="#141414" stroke-width="1.5" fill="none"/>
<path d="M184.2,506.5 A2.6,5.8 -24.0 0 1 188.9,517.1" stroke="#141414" stroke-width="1.5" fill="none"/>
<path d="M163.9,509.5 L169.0,507.2 A7.8,11.2 -24.0 0 1 178.1,527.7 L173.1,529.9 A7.8,11.2 -24.0 0 1 163.9,509.5 Z" stroke="#141414" stroke-width="1.4" fill="#fff" stroke-linejoin="round"/>
<ellipse cx="168.5" cy="519.7" rx="7.8" ry="11.2" fill="#fff" stroke="#141414" stroke-width="1.4" transform="rotate(-24.0 168.5 519.7)"/>
<ellipse cx="168.5" cy="519.7" rx="5.7" ry="8.2" fill="none" stroke="#141414" stroke-width="0.9" transform="rotate(-24.0 168.5 519.7)"/>
<ellipse cx="167.7" cy="519.9" rx="2.6" ry="3.4" fill="none" stroke="#141414" stroke-width="1.2" transform="rotate(-24.0 167.7 519.9)"/>
<ellipse cx="195.9" cy="506.5" rx="4.3" ry="6.6" fill="none" stroke="#141414" stroke-width="1.6" transform="rotate(-24.0 195.9 506.5)"/>
<path d="M192.3,508.5 L199.8,504.8" stroke="#141414" stroke-width="0.9" fill="none" stroke-linecap="round" stroke-linejoin="round"/>
<path d="M202.6,491.8 L227.0,482.9 A3.3,7.3 -20.0 0 1 232.0,496.7 L207.6,505.6 A3.3,7.3 -20.0 0 1 202.6,491.8 Z" stroke="#141414" stroke-width="1.0" fill="#fff" stroke-linejoin="round"/>
<ellipse cx="205.1" cy="498.7" rx="3.3" ry="7.3" fill="#fff" stroke="#141414" stroke-width="1.0" transform="rotate(-20.0 205.1 498.7)"/>
<path d="M204.0,491.3 A3.3,7.3 -20.0 0 1 211.3,504.2" stroke="#141414" stroke-width="1.5" fill="none"/>
<path d="M207.2,490.1 A3.3,7.3 -20.0 0 1 214.5,503.0" stroke="#141414" stroke-width="1.5" fill="none"/>
<path d="M210.5,489.0 A3.3,7.3 -20.0 0 1 217.7,501.9" stroke="#141414" stroke-width="1.5" fill="none"/>
<path d="M213.7,487.8 A3.3,7.3 -20.0 0 1 220.9,500.7" stroke="#141414" stroke-width="1.5" fill="none"/>
<path d="M216.9,486.6 A3.3,7.3 -20.0 0 1 224.2,499.5" stroke="#141414" stroke-width="1.5" fill="none"/>
<path d="M220.1,485.5 A3.3,7.3 -20.0 0 1 227.4,498.4" stroke="#141414" stroke-width="1.5" fill="none"/>
<path d="M223.4,484.3 A3.3,7.3 -20.0 0 1 230.6,497.2" stroke="#141414" stroke-width="1.5" fill="none"/>
<ellipse cx="205.1" cy="498.7" rx="3.3" ry="7.3" fill="#fff" stroke="#141414" stroke-width="1.4" transform="rotate(-20.0 205.1 498.7)"/>
<ellipse cx="205.1" cy="498.7" rx="1.7" ry="4.0" fill="#141414" stroke="#141414" stroke-width="1.3" transform="rotate(-20.0 205.1 498.7)"/>
<path d="M232.9,480.9 L249.9,472.4 A2.0,4.0 -26.6 0 1 253.5,479.6 L236.5,488.1 A2.0,4.0 -26.6 0 1 232.9,480.9 Z" stroke="#141414" stroke-width="1.2" fill="#fff" stroke-linejoin="round"/>
<ellipse cx="234.7" cy="484.5" rx="2.0" ry="4.0" fill="#fff" stroke="#141414" stroke-width="1.2" transform="rotate(-26.6 234.7 484.5)"/>
<path d="M248.3,471.4 L251.0,470.1 A2.5,5.6 -26.6 0 1 256.0,480.1 L253.3,481.4 A2.5,5.6 -26.6 0 1 248.3,471.4 Z" stroke="#141414" stroke-width="1.2" fill="#fff" stroke-linejoin="round"/>
<path d="M247.2,473.8 L249.6,470.8 M250.8,480.9 L254.6,480.8" stroke="#141414" stroke-width="1.2"/>
<path d="M249.6,470.8 L261.7,464.7 A2.5,5.6 -26.6 0 1 266.7,474.7 L254.6,480.8 A2.5,5.6 -26.6 0 1 249.6,470.8 Z" stroke="#141414" stroke-width="1.2" fill="#fff" stroke-linejoin="round"/>
<ellipse cx="252.6" cy="475.5" rx="2.5" ry="5.6" fill="none" stroke="#141414" stroke-width="1.6" transform="rotate(-26.6 252.6 475.5)"/>
<path d="M259.0,466.1 A2.5,5.6 -26.6 0 1 264.0,476.1" stroke="#141414" stroke-width="1.3" fill="none"/>
<path d="M260.8,465.2 A2.5,5.6 -26.6 0 1 265.8,475.2" stroke="#141414" stroke-width="1.3" fill="none"/>
<path d="M262.2,465.8 L268.5,462.7 A2.0,4.4 -26.6 0 1 272.4,470.5 L266.2,473.7 A2.0,4.4 -26.6 0 1 262.2,465.8 Z" stroke="#141414" stroke-width="1.2" fill="#fff" stroke-linejoin="round"/>
<path d="M267.8,461.3 L279.9,455.3 A2.7,5.9 -26.6 0 1 285.2,465.8 L273.1,471.9 A2.7,5.9 -26.6 0 1 267.8,461.3 Z" stroke="#141414" stroke-width="1.2" fill="#fff" stroke-linejoin="round"/>
<path d="M280.6,456.7 L283.5,455.3 A1.9,4.3 -26.6 0 1 287.3,463.0 L284.5,464.4 A1.9,4.3 -26.6 0 1 280.6,456.7 Z" stroke="#141414" stroke-width="1.2" fill="#fff" stroke-linejoin="round"/>
<path d="M268.7,460.9 A2.7,5.9 -26.6 0 1 274.0,471.4" stroke="#141414" stroke-width="1.1" fill="none"/>
<ellipse cx="234.7" cy="484.5" rx="1.5" ry="2.8" fill="none" stroke="#141414" stroke-width="1.1" transform="rotate(-26.6 234.7 484.5)"/>
<path d="M169.3,508.5 L174.3,514.5" stroke="#141414" stroke-width="0" fill="none" stroke-linecap="round" stroke-linejoin="round"/>
<text transform="translate(114.6,427.0) scale(1.032,1)" font-family="Liberation Serif" font-size="11.5" fill="#141414" stroke="#141414" stroke-width="0.4">12</text>
<path d="M118.4,430.4 L115.9,455.0" stroke="#141414" stroke-width="1.1" fill="none" stroke-linecap="round" stroke-linejoin="round"/>
<text transform="translate(140.3,421.5) scale(0.805,1)" font-family="Liberation Serif" font-size="13.3" fill="#141414" stroke="#141414" stroke-width="0.4">10</text>
<path d="M144.8,423.7 L142.6,447.6" stroke="#141414" stroke-width="1.1" fill="none" stroke-linecap="round" stroke-linejoin="round"/>
<text transform="translate(169.5,404.6) scale(0.675,1)" font-family="Liberation Serif" font-size="13.2" fill="#141414" stroke="#141414" stroke-width="0.4">7</text>
<path d="M171.7,405.8 L168.6,430.4" stroke="#141414" stroke-width="1.1" fill="none" stroke-linecap="round" stroke-linejoin="round"/>
<text transform="translate(197.5,392.3) scale(1.135,1)" font-family="Liberation Serif" font-size="8.3" fill="#141414" stroke="#141414" stroke-width="0.6">21</text>
<path d="M202.0,394.6 L200.9,418.0" stroke="#141414" stroke-width="1.1" fill="none" stroke-linecap="round" stroke-linejoin="round"/>
<text transform="translate(166.8,480.4) scale(0.920,1)" font-family="Liberation Serif" font-size="12.4" fill="#141414" stroke="#141414" stroke-width="0.4">12</text>
<path d="M171.6,484.0 L169.4,508.0" stroke="#141414" stroke-width="1.1" fill="none" stroke-linecap="round" stroke-linejoin="round"/>
<text transform="translate(194.4,473.2) scale(0.920,1)" font-family="Liberation Serif" font-size="12.4" fill="#141414" stroke="#141414" stroke-width="0.4">10</text>
<path d="M198.2,474.4 L196.8,499.6" stroke="#141414" stroke-width="1.1" fill="none" stroke-linecap="round" stroke-linejoin="round"/>
<text transform="translate(220.8,456.4) scale(0.841,1)" font-family="Liberation Serif" font-size="12.4" fill="#141414" stroke="#141414" stroke-width="0.4">7</text>
<path d="M222.2,457.6 L220.9,483.4" stroke="#141414" stroke-width="1.1" fill="none" stroke-linecap="round" stroke-linejoin="round"/>
<text transform="translate(250.7,444.4) scale(1.113,1)" font-family="Liberation Serif" font-size="8.9" fill="#141414" stroke="#141414" stroke-width="0.6">21</text>
<path d="M254.8,448.0 L253.3,468.4" stroke="#141414" stroke-width="1.1" fill="none" stroke-linecap="round" stroke-linejoin="round"/>
<path d="M209.2,557.6 L223.2,552.2 A4.5,10.6 -21.0 0 1 230.8,572.0 L216.8,577.4 A4.5,10.6 -21.0 0 1 209.2,557.6 Z" stroke="#141414" stroke-width="1.3" fill="#fff" stroke-linejoin="round"/>
<path d="M212.9,556.2 A4.5,10.6 -21.0 0 1 220.5,576.0" stroke="#141414" stroke-width="1.5" fill="none"/>
<path d="M214.7,555.5 A4.5,10.6 -21.0 0 1 222.3,575.3" stroke="#141414" stroke-width="1.5" fill="none"/>
<path d="M216.5,554.8 A4.5,10.6 -21.0 0 1 224.1,574.6" stroke="#141414" stroke-width="1.5" fill="none"/>
<path d="M218.3,554.1 A4.5,10.6 -21.0 0 1 225.9,573.9" stroke="#141414" stroke-width="1.5" fill="none"/>
<path d="M220.1,553.4 A4.5,10.6 -21.0 0 1 227.7,573.2" stroke="#141414" stroke-width="1.5" fill="none"/>
<path d="M221.8,552.8 A4.5,10.6 -21.0 0 1 229.4,572.5" stroke="#141414" stroke-width="1.5" fill="none"/>
<path d="M186.0,570.6 L190.8,556.6 L200.3,551.1 L214.8,554.0 L224.6,570.9 L219.8,584.9 L210.2,590.4 L195.7,587.5 Z" stroke="#141414" stroke-width="1.3" fill="#fff" stroke-linejoin="round"/>
<path d="M215.0,576.4 L224.6,570.9" stroke="#141414" stroke-width="1.105" fill="none" stroke-linecap="round" stroke-linejoin="round"/>
<path d="M205.3,559.5 L214.8,554.0" stroke="#141414" stroke-width="1.105" fill="none" stroke-linecap="round" stroke-linejoin="round"/>
<path d="M210.2,590.4 L215.0,576.4 L205.3,559.5 L190.8,556.6 L186.0,570.6 L195.7,587.5 Z" stroke="#141414" stroke-width="1.3" fill="#fff" stroke-linejoin="round"/>
<ellipse cx="200.5" cy="573.5" rx="10.9" ry="16.5" fill="none" stroke="#141414" stroke-width="1.0" transform="rotate(-30.0 200.5 573.5)"/>
<path d="M180.3,574.6 L197.3,566.2 A3.8,7.6 -26.0 0 1 204.0,579.9 L186.9,588.2 A3.8,7.6 -26.0 0 1 180.3,574.6 Z" stroke="#141414" stroke-width="1.2" fill="#fff" stroke-linejoin="round"/>
<path d="M182.3,573.6 A3.8,7.6 -26.0 0 1 188.9,587.3" stroke="#141414" stroke-width="1.4" fill="none"/>
<path d="M184.4,572.5 A3.8,7.6 -26.0 0 1 191.1,586.2" stroke="#141414" stroke-width="1.4" fill="none"/>
<path d="M186.6,571.5 A3.8,7.6 -26.0 0 1 193.3,585.1" stroke="#141414" stroke-width="1.4" fill="none"/>
<path d="M188.8,570.4 A3.8,7.6 -26.0 0 1 195.5,584.1" stroke="#141414" stroke-width="1.4" fill="none"/>
<path d="M191.0,569.3 A3.8,7.6 -26.0 0 1 197.7,583.0" stroke="#141414" stroke-width="1.4" fill="none"/>
<path d="M193.2,568.3 A3.8,7.6 -26.0 0 1 199.8,581.9" stroke="#141414" stroke-width="1.4" fill="none"/>
<path d="M195.4,567.2 A3.8,7.6 -26.0 0 1 202.0,580.9" stroke="#141414" stroke-width="1.4" fill="none"/>
<path d="M177.0,578.0 L181.5,575.8 A3.9,6.0 -26.0 0 1 186.7,586.6 L182.2,588.8 A3.9,6.0 -26.0 0 1 177.0,578.0 Z" stroke="#141414" stroke-width="1.3" fill="#fff" stroke-linejoin="round"/>
<ellipse cx="179.6" cy="583.4" rx="3.9" ry="6.0" fill="#fff" stroke="#141414" stroke-width="1.3" transform="rotate(-26.0 179.6 583.4)"/>
<ellipse cx="179.6" cy="583.4" rx="2.4" ry="3.5" fill="none" stroke="#141414" stroke-width="1.2" transform="rotate(-26.0 179.6 583.4)"/>
<text transform="translate(211.0,624.2) scale(0.851,1)" font-family="Liberation Serif" font-size="13.3" fill="#141414" stroke="#141414" stroke-width="0.4">5</text>
<path d="M214.8,612.4 L217.6,588.5" stroke="#141414" stroke-width="1.1" fill="none" stroke-linecap="round" stroke-linejoin="round"/>
<path d="M236.0,556.0 L246.0,551.0" stroke="#141414" stroke-width="0.9" fill="none" stroke-linecap="round" stroke-linejoin="round"/>
<ellipse cx="240.6" cy="552.5" rx="7.2" ry="12.6" fill="none" stroke="#141414" stroke-width="1.6" transform="rotate(-25.5 240.6 552.5)"/>
<text transform="translate(240.4,602.4) scale(0.641,1)" font-family="Liberation Serif" font-size="13.3" fill="#141414" stroke="#141414" stroke-width="0.4">11</text>
<path d="M244.3,592.0 L246.6,564.5" stroke="#141414" stroke-width="1.1" fill="none" stroke-linecap="round" stroke-linejoin="round"/>
<path d="M249.5,539.3 L274.2,528.3 A3.6,7.3 -24.0 0 1 280.1,541.7 L255.5,552.7 A3.6,7.3 -24.0 0 1 249.5,539.3 Z" stroke="#141414" stroke-width="1.0" fill="#fff" stroke-linejoin="round"/>
<ellipse cx="252.5" cy="546.0" rx="3.6" ry="7.3" fill="#fff" stroke="#141414" stroke-width="1.0" transform="rotate(-24.0 252.5 546.0)"/>
<path d="M251.0,538.7 A3.6,7.3 -24.0 0 1 259.1,551.0" stroke="#141414" stroke-width="1.5" fill="none"/>
<path d="M254.2,537.2 A3.6,7.3 -24.0 0 1 262.4,549.6" stroke="#141414" stroke-width="1.5" fill="none"/>
<path d="M257.5,535.8 A3.6,7.3 -24.0 0 1 265.6,548.1" stroke="#141414" stroke-width="1.5" fill="none"/>
<path d="M260.8,534.3 A3.6,7.3 -24.0 0 1 268.9,546.7" stroke="#141414" stroke-width="1.5" fill="none"/>
<path d="M264.0,532.9 A3.6,7.3 -24.0 0 1 272.2,545.2" stroke="#141414" stroke-width="1.5" fill="none"/>
<path d="M267.3,531.4 A3.6,7.3 -24.0 0 1 275.4,543.8" stroke="#141414" stroke-width="1.5" fill="none"/>
<path d="M270.6,530.0 A3.6,7.3 -24.0 0 1 278.7,542.3" stroke="#141414" stroke-width="1.5" fill="none"/>
<ellipse cx="252.5" cy="546.0" rx="3.6" ry="7.3" fill="#fff" stroke="#141414" stroke-width="1.4" transform="rotate(-24.0 252.5 546.0)"/>
<ellipse cx="252.5" cy="546.0" rx="1.8" ry="4.0" fill="#141414" stroke="#141414" stroke-width="1.3" transform="rotate(-24.0 252.5 546.0)"/>
<text transform="translate(266.8,580.6) scale(0.850,1)" font-family="Liberation Serif" font-size="11.2" fill="#141414" stroke="#141414" stroke-width="0.4">8</text>
<path d="M269.2,571.4 L272.2,542.5" stroke="#141414" stroke-width="1.1" fill="none" stroke-linecap="round" stroke-linejoin="round"/>
<path d="M302.8,512.0 L308.4,509.3 A3.2,6.4 -25.5 0 1 313.9,520.9 L308.3,523.5 A3.2,6.4 -25.5 0 1 302.8,512.0 Z" stroke="#141414" stroke-width="1.3" fill="#fff" stroke-linejoin="round"/>
<path d="M306.9,510.0 A3.2,6.4 -25.5 0 1 312.4,521.6" stroke="#141414" stroke-width="1.8" fill="none"/>
<path d="M282.5,518.1 L303.2,508.2 A4.8,9.6 -25.5 0 1 311.5,525.6 L290.7,535.5 A4.8,9.6 -25.5 0 1 282.5,518.1 Z" stroke="#141414" stroke-width="1.3" fill="#fff" stroke-linejoin="round"/>
<ellipse cx="286.6" cy="526.8" rx="4.8" ry="9.6" fill="#fff" stroke="#141414" stroke-width="1.3" transform="rotate(-25.5 286.6 526.8)"/>
<ellipse cx="307.7" cy="516.7" rx="3.1" ry="6.6" fill="none" stroke="#141414" stroke-width="1.9" transform="rotate(-25.5 307.7 516.7)"/>
<ellipse cx="286.6" cy="526.8" rx="2.7" ry="5.2" fill="none" stroke="#141414" stroke-width="1.3" transform="rotate(-25.5 286.6 526.8)"/>
<ellipse cx="286.6" cy="526.8" rx="1.5" ry="3.1" fill="none" stroke="#141414" stroke-width="1.1" transform="rotate(-25.5 286.6 526.8)"/>
<text transform="translate(302.0,562.7) scale(0.975,1)" font-family="Liberation Serif" font-size="11.4" fill="#141414" stroke="#141414" stroke-width="0.4">3</text>
<path d="M304.8,553.6 L306.0,530.5" stroke="#141414" stroke-width="1.1" fill="none" stroke-linecap="round" stroke-linejoin="round"/>
<ellipse cx="434.5" cy="528.8" rx="5.1" ry="5.1" fill="#fff" stroke="#141414" stroke-width="1.5"/>
<text transform="translate(467.0,523.0) scale(0.947,1)" font-family="Liberation Serif" font-size="11.7" fill="#141414" stroke="#141414" stroke-width="0.4">18</text>
<path d="M440.0,528.4 L464.0,521.8" stroke="#141414" stroke-width="1.1" fill="none" stroke-linecap="round" stroke-linejoin="round"/>
<path d="M428.8,540.0 L428.8,555.5 A5.8,2.3 0 0 0 440.4,555.5 L440.4,540.0" stroke="#141414" stroke-width="1.2" fill="#fff" stroke-linejoin="round"/>
<ellipse cx="434.6" cy="540.0" rx="5.8" ry="2.3" fill="#fff" stroke="#141414" stroke-width="1.2"/>
<path d="M428.8,542.0 A5.8,2.3 0 0 0 440.4,542.0" stroke="#141414" stroke-width="1.8" fill="none"/>
<path d="M428.8,544.9 A5.8,2.3 0 0 0 440.4,544.9" stroke="#141414" stroke-width="1.8" fill="none"/>
<path d="M428.8,547.8 A5.8,2.3 0 0 0 440.4,547.8" stroke="#141414" stroke-width="1.8" fill="none"/>
<path d="M428.8,550.6 A5.8,2.3 0 0 0 440.4,550.6" stroke="#141414" stroke-width="1.8" fill="none"/>
<path d="M428.8,553.5 A5.8,2.3 0 0 0 440.4,553.5" stroke="#141414" stroke-width="1.8" fill="none"/>
<ellipse cx="434.6" cy="540.0" rx="5.8" ry="2.3" fill="#fff" stroke="#141414" stroke-width="1.6"/>
<ellipse cx="434.6" cy="540.4" rx="3.2" ry="1.2" fill="#141414" stroke="#141414" stroke-width="1.6"/>
<text transform="translate(467.0,541.8) scale(0.936,1)" font-family="Liberation Serif" font-size="11.8" fill="#141414" stroke="#141414" stroke-width="0.4">19</text>
<path d="M440.6,547.6 L464.0,540.4" stroke="#141414" stroke-width="1.1" fill="none" stroke-linecap="round" stroke-linejoin="round"/>
<ellipse cx="434.5" cy="566.0" rx="7.0" ry="3.3" fill="none" stroke="#141414" stroke-width="1.7"/>
<path d="M434.8,560.0 L434.8,566.0" stroke="#141414" stroke-width="0.9" fill="none" stroke-linecap="round" stroke-linejoin="round"/>
<text transform="translate(467.0,559.0) scale(0.805,1)" font-family="Liberation Serif" font-size="12.7" fill="#141414" stroke="#141414" stroke-width="0.4">10</text>
<path d="M442.0,566.2 L464.6,559.2" stroke="#141414" stroke-width="1.1" fill="none" stroke-linecap="round" stroke-linejoin="round"/>
<path d="M434.8,572.0 L434.8,576.5" stroke="#141414" stroke-width="0.9" fill="none" stroke-linecap="round" stroke-linejoin="round"/>
<path d="M428,594 L428,581.5 L430.6,577.6 L433,576.4 L436.4,576.4 L438.8,577.6 L441.3,581.5 L441.3,594 Z" stroke="#141414" stroke-width="1.2" fill="#fff"/>
<path d="M429.4,579.6 A5.2,1.6 0 0 0 439.8,579.6" stroke="#141414" stroke-width="1.3" fill="none"/>
<path d="M428.0,581.9 A6.6,1.6 0 0 0 441.2,581.9" stroke="#141414" stroke-width="1.3" fill="none"/>
<path d="M428.0,584.2 A6.6,1.6 0 0 0 441.2,584.2" stroke="#141414" stroke-width="1.3" fill="none"/>
<path d="M428.0,586.5 A6.6,1.6 0 0 0 441.2,586.5" stroke="#141414" stroke-width="1.3" fill="none"/>
<path d="M428.0,588.8 A6.6,1.6 0 0 0 441.2,588.8" stroke="#141414" stroke-width="1.3" fill="none"/>
<path d="M428.0,591.1 A6.6,1.6 0 0 0 441.2,591.1" stroke="#141414" stroke-width="1.3" fill="none"/>
<path d="M422.6,595.3 L422.6,598.3 A11.9,4.5 0 0 0 446.4,598.3 L446.4,595.3" stroke="#141414" stroke-width="1.3" fill="#fff"/>
<path d="M422.6,595.3 A11.9,4.5 0 0 0 446.4,595.3" stroke="#141414" stroke-width="1.0" fill="none"/>
<path d="M422.6,595.3 A11.9,4.5 0 0 1 428,591.3 M441.2,591.3 A11.9,4.5 0 0 1 446.4,595.3" stroke="#141414" stroke-width="1.2" fill="none"/>
<text transform="translate(471.3,588.6) scale(0.985,1)" font-family="Liberation Serif" font-size="11.7" fill="#141414" stroke="#141414" stroke-width="0.4">20</text>
<path d="M446.6,595.6 L470.4,588.0" stroke="#141414" stroke-width="1.1" fill="none" stroke-linecap="round" stroke-linejoin="round"/>
<path d="M503.3,237.3 L506.2,235.8 L516.7,256.5 L513.9,257.9 Z" fill="#fff" stroke="none"/>
<ellipse cx="511.5" cy="246.1" rx="7.2" ry="11.6" fill="#fff" stroke="#141414" stroke-width="1.5" transform="rotate(-27.0 511.5 246.1)"/>
<path d="M503.3,237.3 L506.2,235.8" stroke="#141414" stroke-width="1.4" fill="none" stroke-linecap="round" stroke-linejoin="round"/>
<path d="M513.9,257.9 L516.7,256.5" stroke="#141414" stroke-width="1.4" fill="none" stroke-linecap="round" stroke-linejoin="round"/>
<ellipse cx="508.6" cy="247.6" rx="7.2" ry="11.6" fill="#fff" stroke="#141414" stroke-width="1.4" transform="rotate(-27.0 508.6 247.6)"/>
<ellipse cx="508.0" cy="247.9" rx="5.0" ry="8.6" fill="none" stroke="#141414" stroke-width="0.9" transform="rotate(-27.0 508.0 247.9)"/>
<path d="M491.4,250.1 L504.3,243.5 A3.1,6.2 -27.0 0 1 509.9,254.6 L497.0,261.1 A3.1,6.2 -27.0 0 1 491.4,250.1 Z" stroke="#141414" stroke-width="1.3" fill="#fff" stroke-linejoin="round"/>
<ellipse cx="494.2" cy="255.6" rx="3.1" ry="6.2" fill="#fff" stroke="#141414" stroke-width="1.3" transform="rotate(-27.0 494.2 255.6)"/>
<path d="M495.4,248.0 A3.1,6.2 -27.0 0 1 501.1,259.1" stroke="#141414" stroke-width="1.6" fill="none"/>
<path d="M497.3,247.1 A3.1,6.2 -27.0 0 1 502.9,258.1" stroke="#141414" stroke-width="1.6" fill="none"/>
<path d="M499.2,246.1 A3.1,6.2 -27.0 0 1 504.8,257.2" stroke="#141414" stroke-width="1.6" fill="none"/>
<path d="M501.0,245.2 A3.1,6.2 -27.0 0 1 506.7,256.2" stroke="#141414" stroke-width="1.6" fill="none"/>
<path d="M502.9,244.2 A3.1,6.2 -27.0 0 1 508.5,255.3" stroke="#141414" stroke-width="1.6" fill="none"/>
<ellipse cx="494.2" cy="255.6" rx="3.1" ry="6.2" fill="#fff" stroke="#141414" stroke-width="1.4" transform="rotate(-27.0 494.2 255.6)"/>
<path d="M563.7,288.5 L566.6,287.0 L577.1,307.7 L574.3,309.1 Z" fill="#fff" stroke="none"/>
<ellipse cx="571.9" cy="297.3" rx="7.2" ry="11.6" fill="#fff" stroke="#141414" stroke-width="1.5" transform="rotate(-27.0 571.9 297.3)"/>
<path d="M563.7,288.5 L566.6,287.0" stroke="#141414" stroke-width="1.4" fill="none" stroke-linecap="round" stroke-linejoin="round"/>
<path d="M574.3,309.1 L577.1,307.7" stroke="#141414" stroke-width="1.4" fill="none" stroke-linecap="round" stroke-linejoin="round"/>
<ellipse cx="569.0" cy="298.8" rx="7.2" ry="11.6" fill="#fff" stroke="#141414" stroke-width="1.4" transform="rotate(-27.0 569.0 298.8)"/>
<ellipse cx="568.4" cy="299.1" rx="5.0" ry="8.6" fill="none" stroke="#141414" stroke-width="0.9" transform="rotate(-27.0 568.4 299.1)"/>
<path d="M551.4,300.7 L564.3,294.1 A3.1,6.2 -27.0 0 1 570.0,305.1 L557.0,311.7 A3.1,6.2 -27.0 0 1 551.4,300.7 Z" stroke="#141414" stroke-width="1.3" fill="#fff" stroke-linejoin="round"/>
<ellipse cx="554.2" cy="306.2" rx="3.1" ry="6.2" fill="#fff" stroke="#141414" stroke-width="1.3" transform="rotate(-27.0 554.2 306.2)"/>
<path d="M555.4,298.6 A3.1,6.2 -27.0 0 1 561.1,309.7" stroke="#141414" stroke-width="1.6" fill="none"/>
<path d="M557.3,297.7 A3.1,6.2 -27.0 0 1 563.0,308.7" stroke="#141414" stroke-width="1.6" fill="none"/>
<path d="M559.2,296.7 A3.1,6.2 -27.0 0 1 564.8,307.7" stroke="#141414" stroke-width="1.6" fill="none"/>
<path d="M561.1,295.7 A3.1,6.2 -27.0 0 1 566.7,306.8" stroke="#141414" stroke-width="1.6" fill="none"/>
<path d="M563.0,294.8 A3.1,6.2 -27.0 0 1 568.6,305.8" stroke="#141414" stroke-width="1.6" fill="none"/>
<ellipse cx="554.2" cy="306.2" rx="3.1" ry="6.2" fill="#fff" stroke="#141414" stroke-width="1.4" transform="rotate(-27.0 554.2 306.2)"/>
<ellipse cx="480.8" cy="262.6" rx="4.4" ry="7.4" fill="none" stroke="#141414" stroke-width="1.6" transform="rotate(-27.0 480.8 262.6)"/>
<ellipse cx="542.1" cy="312.4" rx="4.4" ry="7.4" fill="none" stroke="#141414" stroke-width="1.6" transform="rotate(-27.0 542.1 312.4)"/>
<path d="M486.0,259.8 L492.0,256.8" stroke="#141414" stroke-width="0.9" fill="none" stroke-linecap="round" stroke-linejoin="round"/>
<path d="M547.0,309.6 L553.0,306.6" stroke="#141414" stroke-width="0.9" fill="none" stroke-linecap="round" stroke-linejoin="round"/>
<text transform="translate(541.1,266.6) scale(1.008,1)" font-family="Liberation Serif" font-size="12.3" fill="#141414" stroke="#141414" stroke-width="0.4">12</text>
<path d="M540.0,261.6 L516.5,257.3" stroke="#141414" stroke-width="1.1" fill="none" stroke-linecap="round" stroke-linejoin="round"/>
<path d="M552.6,266.8 L565.2,288.6" stroke="#141414" stroke-width="1.1" fill="none" stroke-linecap="round" stroke-linejoin="round"/>
<text transform="translate(523.4,283.2) scale(0.911,1)" font-family="Liberation Serif" font-size="12.3" fill="#141414" stroke="#141414" stroke-width="0.4">10</text>
<path d="M522.4,277.2 L486.6,267.8" stroke="#141414" stroke-width="1.1" fill="none" stroke-linecap="round" stroke-linejoin="round"/>
<path d="M531.8,284.6 L540.0,305.6" stroke="#141414" stroke-width="1.1" fill="none" stroke-linecap="round" stroke-linejoin="round"/>
<path d="M477.6,266.5 L408.0,307.0" stroke="#141414" stroke-width="1.0" fill="none" stroke-linecap="round" stroke-linejoin="round"/>
<path d="M440.0,285.2 L414.0,300.6" stroke="#141414" stroke-width="0.9" fill="none" stroke-linecap="round" stroke-linejoin="round"/>
<path d="M456.0,278.6 L526.6,320.6" stroke="#141414" stroke-width="1.0" fill="none" stroke-linecap="round" stroke-linejoin="round"/>
<path d="M442.6,286.9 L446.0,287.0 L514.1,328.4" stroke="#141414" stroke-width="1.0" fill="none" stroke-linecap="round" stroke-linejoin="round"/>
<path d="M538.0,314.5 L486.0,343.0" stroke="#141414" stroke-width="1.0" fill="none" stroke-linecap="round" stroke-linejoin="round"/>
<path d="M486.0,343.0 L429.0,372.5" stroke="#141414" stroke-width="1.0" fill="none" stroke-linecap="round" stroke-linejoin="round" stroke-dasharray="7 2 2 2"/>
<path d="M234.5,367.3 L292.0,336.0" stroke="#141414" stroke-width="0.9" fill="none" stroke-linecap="round" stroke-linejoin="round"/>
<path d="M279.5,415.5 L312.0,398.5" stroke="#141414" stroke-width="0.9" fill="none" stroke-linecap="round" stroke-linejoin="round"/>
<path d="M232.5,405.0 L290.0,374.0" stroke="#141414" stroke-width="0.9" fill="none" stroke-linecap="round" stroke-linejoin="round"/>
<path d="M254.9,393.7 L325.7,434.0" stroke="#141414" stroke-width="1.0" fill="none" stroke-linecap="round" stroke-linejoin="round"/>
<path d="M285.6,419.6 L324.0,398.8" stroke="#141414" stroke-width="0.9" fill="none" stroke-linecap="round" stroke-linejoin="round"/>
<path d="M285.6,419.6 L334.8,448.5 L334.8,499.6 L317.5,509.5" stroke="#141414" stroke-width="1.0" fill="none" stroke-linecap="round" stroke-linejoin="round"/>
<path d="M334.8,464.2 L396.0,431.0" stroke="#141414" stroke-width="0.9" fill="none" stroke-linecap="round" stroke-linejoin="round"/>
<path d="M286.5,458.2 L394.0,396.8" stroke="#141414" stroke-width="0.9" fill="none" stroke-linecap="round" stroke-linejoin="round"/>
<path d="M300.0,447.5 L340.0,425.6" stroke="#141414" stroke-width="0.8" fill="none" stroke-linecap="round" stroke-linejoin="round"/>
<path d="M363.8,437.3 L363.8,464.2 L435.2,503.8" stroke="#141414" stroke-width="1.0" fill="none" stroke-linecap="round" stroke-linejoin="round"/>
<path d="M305.8,364.2 L324.0,354.6" stroke="#141414" stroke-width="0.9" fill="none" stroke-linecap="round" stroke-linejoin="round"/>
<path d="M305.8,364.2 L376.1,406.2" stroke="#141414" stroke-width="1.0" fill="none" stroke-linecap="round" stroke-linejoin="round"/>
<path d="M290.0,409.6 L362.0,376.0" stroke="#141414" stroke-width="0.9" fill="none" stroke-linecap="round" stroke-linejoin="round"/>
<path d="M435.8,438.0 L435.8,466.0" stroke="#141414" stroke-width="1.0" fill="none" stroke-linecap="round" stroke-linejoin="round" stroke-dasharray="2 1.5"/>
<path d="M435.8,466.0 L435.8,521.5" stroke="#141414" stroke-width="1.0" fill="none" stroke-linecap="round" stroke-linejoin="round"/>

</svg>
</body></html>
